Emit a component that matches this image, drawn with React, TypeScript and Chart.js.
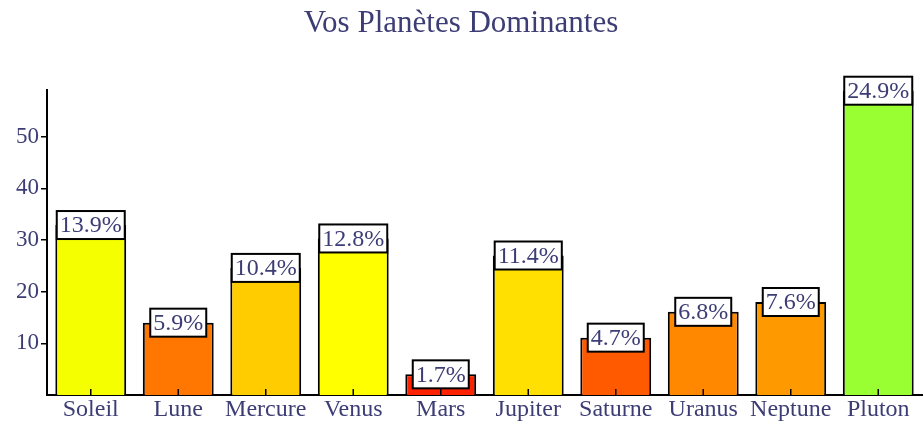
import React, { useEffect, useRef } from "react";
import { Chart, registerables } from "chart.js";

Chart.register(...registerables);

const categories = ["Soleil", "Lune", "Mercure", "Venus", "Mars", "Jupiter", "Saturne", "Uranus", "Neptune", "Pluton"];
const values = [32.9, 14.0, 24.6, 30.3, 4.0, 27.0, 11.1, 16.1, 18.0, 58.9];
const percentLabels = ["13.9%", "5.9%", "10.4%", "12.8%", "1.7%", "11.4%", "4.7%", "6.8%", "7.6%", "24.9%"];
const barColors = ["#f5ff00", "#ff7700", "#ffcc00", "#ffff00", "#ff2200", "#ffe000", "#ff5a00", "#ff8800", "#ff9900", "#99ff33"];
const yTicks = [10, 20, 30, 40, 50];

const TEXT = "#3d3d75";
const FONT = "'Liberation Serif', 'Times New Roman', serif";

const boxLabels = {
  id: "boxLabels",
  afterDatasetsDraw(chart: any) {
    const ctx = chart.ctx;
    const meta = chart.getDatasetMeta(0);
    ctx.save();
    ctx.font = `24px ${FONT}`;
    ctx.textAlign = "center";
    ctx.textBaseline = "middle";
    meta.data.forEach((bar: any, i: number) => {
      const t = percentLabels[i];
      const w = ctx.measureText(t).width + 6;
      const h = 28;
      const x = bar.x - w / 2;
      const y = bar.y - h / 2;
      ctx.fillStyle = "#ffffff";
      ctx.fillRect(x, y, w, h);
      ctx.strokeStyle = "#000000";
      ctx.lineWidth = 2;
      ctx.strokeRect(x, y, w, h);
      ctx.fillStyle = TEXT;
      ctx.fillText(t, bar.x, bar.y + 1);
    });
    // x ticks pointing up into bars
    const xs = chart.scales.x;
    const base = chart.chartArea.bottom;
    ctx.strokeStyle = "#000";
    ctx.lineWidth = 1.5;
    categories.forEach((_, i) => {
      const px = xs.getPixelForValue(i);
      ctx.beginPath();
      ctx.moveTo(px, base);
      ctx.lineTo(px, base - 6);
      ctx.stroke();
    });
    ctx.restore();
  },
};

export default function App() {
  const ref = useRef<HTMLCanvasElement>(null);
  useEffect(() => {
    document.body.style.margin = "0";
    const chart = new Chart(ref.current!, {
      type: "bar",
      data: {
        labels: categories,
        datasets: [
          {
            data: values,
            backgroundColor: barColors,
            borderColor: "#000",
            borderWidth: 2,
            barPercentage: 0.81,
            categoryPercentage: 1,
          },
        ],
      },
      options: {
        responsive: false,
        animation: false,
        layout: { padding: { right: 1, left: 0 } },
        plugins: {
          legend: { display: false },
          tooltip: { enabled: false },
          title: {
            display: true,
            text: "Vos Planètes Dominantes",
            color: TEXT,
            font: { family: FONT, size: 31, weight: "normal" },
            padding: { top: 5, bottom: 48 },
          },
        },
        scales: {
          x: {
            grid: { display: false, drawTicks: false },
            border: { color: "#000", width: 2 },
            ticks: { color: TEXT, font: { family: FONT, size: 24 }, padding: 0, maxRotation: 0, autoSkip: false },
            afterFit(s: any) {
              s.height = 26;
            },
          },
          y: {
            min: 0,
            max: 59,
            grid: { drawOnChartArea: false, color: "#000", tickLength: 6, lineWidth: 1.5 },
            border: { color: "#000", width: 2 },
            afterBuildTicks(s: any) {
              s.ticks = yTicks.map((v) => ({ value: v }));
            },
            ticks: { color: TEXT, font: { family: FONT, size: 23 }, padding: 2 },
            afterFit(s: any) {
              s.width = 47;
            },
          },
        },
      },
      plugins: [boxLabels],
    });
    return () => chart.destroy();
  }, []);
  return <canvas ref={ref} width={923} height={421} />;
}
